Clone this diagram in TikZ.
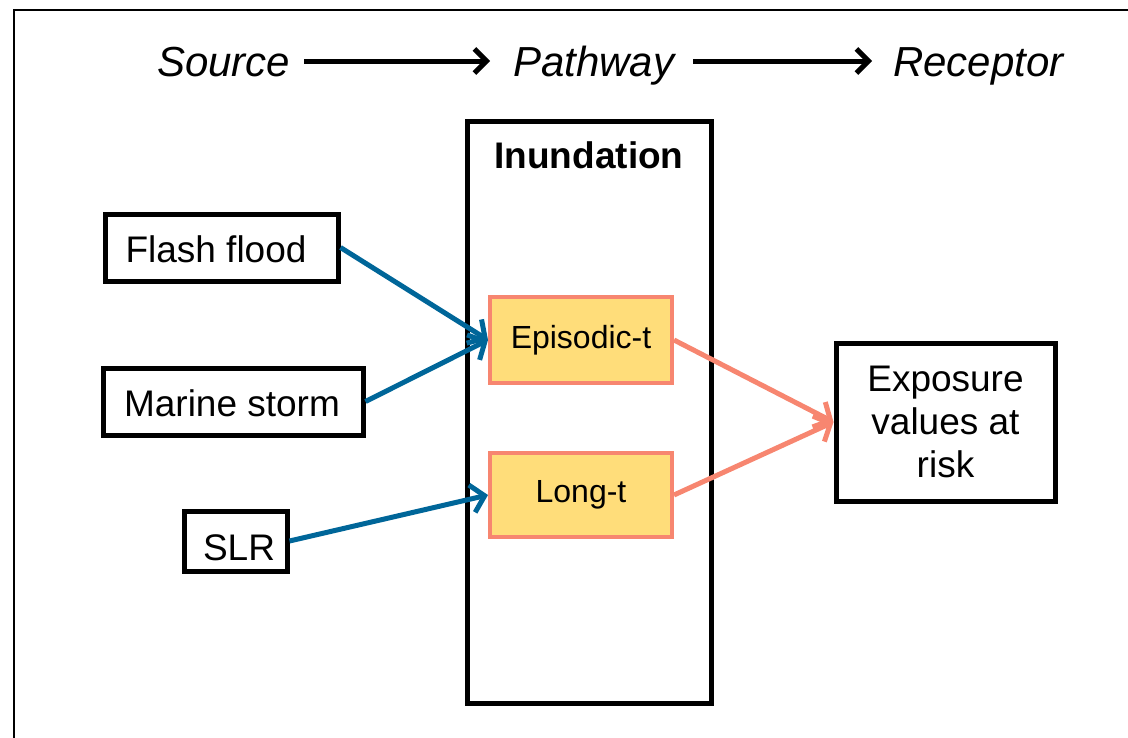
\documentclass[tikz,border=0pt]{standalone}
\usepackage{fontspec}
\setmainfont{Liberation Sans}
\usetikzlibrary{arrows.meta}
\definecolor{flowblue}{RGB}{0,102,153}
\definecolor{salmon}{RGB}{247,134,112}
\definecolor{boxyellow}{RGB}{255,221,122}
\tikzset{
  srcbox/.style={draw=black, line width=5pt, fill=white, rectangle, inner sep=0pt},
  tbox/.style={draw=salmon, line width=4pt, fill=boxyellow, rectangle, inner sep=0pt},
  bluearrow/.style={draw=flowblue, line width=5pt, -{Straight Barb[length=13pt,width=28pt,line width=5pt]}},
  redarrow/.style={draw=salmon, line width=5pt, -{Straight Barb[length=13pt,width=28pt,line width=5pt]}},
  blackarrow/.style={draw=black, line width=5pt, -{Straight Barb[length=12pt,width=24pt,line width=5pt]}},
  headtxt/.style={font=\fontsize{42}{48}\selectfont\itshape, inner sep=0pt},
  bodytxt/.style={font=\fontsize{37}{43}\selectfont},
}
\begin{document}
\begin{tikzpicture}[x=1pt,y=-1pt]
\useasboundingbox (0,0) rectangle (1128,737);
\clip (0,0) rectangle (1128,737);
\draw[line width=2pt] (14,10) rectangle (1140,750);
% header
\node[headtxt, anchor=base west] (src) at (157,76) {Source};
\node[headtxt, anchor=base west] (path) at (513,76) {Pathway};
\node[headtxt, anchor=base west] (rec) at (893,76) {Receptor};
\coordinate (a1s) at (304,61);
\coordinate (a1e) at (490,61);
\coordinate (a2s) at (693,61);
\coordinate (a2e) at (872,61);
\draw[blackarrow] (a1s) -- (a1e);
\draw[blackarrow] (a2s) -- (a2e);
% inundation container
\draw[line width=5pt] (467,121) rectangle (711,703);
\node[font=\fontsize{37}{43}\selectfont\bfseries, inner sep=0pt] (inund) at (589,155) {Inundation};
% source boxes
\node[srcbox, minimum width=233pt, minimum height=67pt] (ff) at (221.5,247.5) {};
\node[bodytxt, inner sep=0pt] at (216,249) {Flash flood};
\node[srcbox, minimum width=260pt, minimum height=67pt] (ms) at (233,401.5) {};
\node[bodytxt, inner sep=0pt] at (232,403) {Marine storm};
\node[srcbox, minimum width=103pt, minimum height=60pt] (slr) at (235.5,541) {};
\node[bodytxt, inner sep=0pt] at (239,548) {SLR};
% timescale boxes
\node[tbox, minimum width=182pt, minimum height=86pt, font=\fontsize{32}{38}\selectfont] (epi) at (581,340) {Episodic-t};
\node[tbox, minimum width=182pt, minimum height=84pt, font=\fontsize{32}{38}\selectfont] (lt) at (581,495) {Long-t};
% receptor
\node[srcbox, minimum width=219pt, minimum height=158pt, align=center, font=\fontsize{37}{43}\selectfont] (exp) at (945.5,422) {Exposure\\values at\\risk};
% connectors
\draw[bluearrow] (ff.east) -- (epi.west);
\draw[bluearrow] (ms.east) -- (epi.west);
\draw[bluearrow] (slr.east) -- (lt.west);
\draw[redarrow] (epi.east) -- (exp.west);
\draw[redarrow] (lt.east) -- (exp.west);
\end{tikzpicture}
\end{document}
